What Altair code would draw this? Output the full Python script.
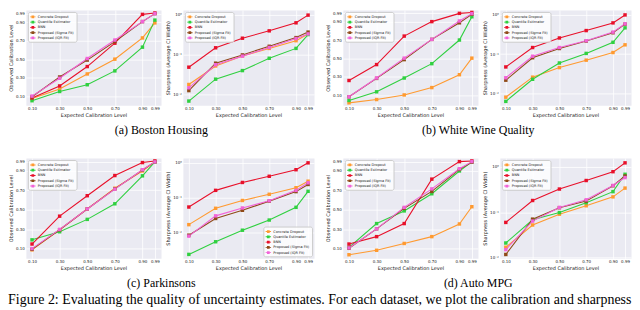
import altair as alt
import pandas as pd

X_LEVELS = [0.10, 0.30, 0.50, 0.70, 0.90, 0.99]
METHODS = ["Concrete Dropout", "Quantile Estimator", "BNN",
           "Proposed (Sigma Fit)", "Proposed (IQR Fit)"]
COLORS = ["#ff9a30", "#30d040", "#e8102a", "#8f4a18", "#f264d8"]
LOG_TICKS = [0.001, 0.01, 0.1, 1.0]

# (a) Boston Housing
boston_cal = {
    "Concrete Dropout": [0.073, 0.177, 0.34, 0.50, 0.73, 0.893],
    "Quantile Estimator": [0.05, 0.15, 0.223, 0.373, 0.63, 0.923],
    "BNN": [0.08, 0.21, 0.42, 0.673, 0.985, 1.0],
    "Proposed (Sigma Fit)": [0.093, 0.307, 0.49, 0.69, 0.907, 0.993],
    "Proposed (IQR Fit)": [0.10, 0.293, 0.507, 0.707, 0.907, 0.993],
}
boston_sharp = {
    "Concrete Dropout": [0.0179, 0.0519, 0.0916, 0.1425, 0.222, 0.328],
    "Quantile Estimator": [0.0069, 0.0243, 0.0398, 0.0809, 0.1425, 0.316],
    "BNN": [0.0484, 0.1476, 0.256, 0.391, 0.62, 0.966],
    "Proposed (Sigma Fit)": [0.0126, 0.061, 0.098, 0.161, 0.265, 0.364],
    "Proposed (IQR Fit)": [0.0148, 0.0557, 0.0914, 0.150, 0.251, 0.328],
}
# (b) White Wine Quality
wine_cal = {
    "Concrete Dropout": [0.017, 0.053, 0.103, 0.183, 0.323, 0.503],
    "Quantile Estimator": [0.043, 0.137, 0.287, 0.443, 0.70, 0.953],
    "BNN": [0.26, 0.433, 0.743, 0.90, 0.99, 1.0],
    "Proposed (Sigma Fit)": [0.083, 0.283, 0.487, 0.707, 0.887, 0.98],
    "Proposed (IQR Fit)": [0.083, 0.287, 0.503, 0.707, 0.907, 0.987],
}
wine_sharp = {
    "Concrete Dropout": [0.00805, 0.0259, 0.0453, 0.0698, 0.109, 0.171],
    "Quantile Estimator": [0.0063, 0.0229, 0.0593, 0.1037, 0.198, 0.461],
    "BNN": [0.047, 0.146, 0.255, 0.393, 0.615, 0.98],
    "Proposed (Sigma Fit)": [0.0217, 0.0806, 0.138, 0.213, 0.346, 0.573],
    "Proposed (IQR Fit)": [0.025, 0.088, 0.146, 0.217, 0.359, 0.583],
}
# (c) Parkinsons
park_cal = {
    "Concrete Dropout": [0.087, 0.293, 0.507, 0.72, 0.897, 0.99],
    "Quantile Estimator": [0.19, 0.273, 0.40, 0.56, 0.847, 0.99],
    "BNN": [0.147, 0.433, 0.643, 0.85, 0.983, 1.0],
    "Proposed (Sigma Fit)": [0.093, 0.293, 0.507, 0.713, 0.907, 0.99],
    "Proposed (IQR Fit)": [0.10, 0.297, 0.507, 0.71, 0.91, 0.99],
}
park_sharp = {
    "Concrete Dropout": [0.0165, 0.0489, 0.0822, 0.124, 0.192, 0.296],
    "Quantile Estimator": [0.00229, 0.0053, 0.0114, 0.0224, 0.0521, 0.151],
    "BNN": [0.0532, 0.161, 0.272, 0.41, 0.634, 1.0],
    "Proposed (Sigma Fit)": [0.0082, 0.0249, 0.0429, 0.0787, 0.148, 0.238],
    "Proposed (IQR Fit)": [0.0077, 0.0296, 0.0499, 0.0805, 0.161, 0.266],
}
# (d) Auto MPG
mpg_cal = {
    "Concrete Dropout": [0.037, 0.083, 0.153, 0.223, 0.353, 0.53],
    "Quantile Estimator": [0.113, 0.357, 0.487, 0.663, 0.897, 0.99],
    "BNN": [0.147, 0.223, 0.357, 0.813, 0.993, 1.0],
    "Proposed (Sigma Fit)": [0.103, 0.303, 0.513, 0.687, 0.913, 0.987],
    "Proposed (IQR Fit)": [0.107, 0.303, 0.523, 0.713, 0.92, 0.993],
}
mpg_sharp = {
    "Concrete Dropout": [0.017, 0.0525, 0.0906, 0.139, 0.218, 0.34],
    "Quantile Estimator": [0.0211, 0.0684, 0.0984, 0.162, 0.284, 0.684],
    "BNN": [0.0598, 0.1815, 0.324, 0.499, 0.78, 1.22],
    "Proposed (Sigma Fit)": [0.0118, 0.0706, 0.126, 0.176, 0.383, 0.629],
    "Proposed (IQR Fit)": [0.0151, 0.064, 0.128, 0.1877, 0.389, 0.579],
}

# axis ranges
X_DOMAIN = [0.0555, 1.0345]
boston_cal_dom = [0.0, 1.033]
boston_sharp_dom = [0.0054, 1.3]
wine_cal_dom = [-0.01, 1.027]
wine_sharp_dom = [0.005, 1.31]
park_cal_dom = [0.0, 1.03]
park_sharp_dom = [0.00176, 1.38]
mpg_cal_dom = [0.0, 1.03]
mpg_sharp_dom = [0.0097, 1.56]

CAPTIONS = ["(a) Boston Housing", "(b) White Wine Quality",
            "(c) Parkinsons", "(d) Auto MPG"]
FIG_CAPTION = ("Figure 2: Evaluating the quality of uncertainty estimates. "
               "For each dataset, we plot the calibration and sharpness")

LEGEND_SYMBOL = ("M-1,-0.16L1,-0.16L1,0.16L-1,0.16Z "
                 "M-0.5,-0.5L0.5,-0.5L0.5,0.5L-0.5,0.5Z")

W_CAL, W_SHARP = 136, 132
H1, H2 = 96, 101


def to_frame(values):
    rows = []
    for m in METHODS:
        for x, y in zip(X_LEVELS, values[m]):
            rows.append({"level": x, "value": y, "method": m})
    return pd.DataFrame(rows)


def panel(values, kind, dom, width, height, legend_orient="top-left"):
    df = to_frame(values)
    if kind == "cal":
        y = alt.Y("value:Q",
                  scale=alt.Scale(domain=dom, nice=False, zero=False),
                  axis=alt.Axis(values=X_LEVELS, format=".2f",
                                title="Observed Calibration Level"))
    else:
        y = alt.Y("value:Q",
                  scale=alt.Scale(type="log", domain=dom, nice=False),
                  axis=alt.Axis(values=LOG_TICKS,
                                labelExpr="datum.value >= 0.5 ? '10\u2070' : datum.value >= 0.05 ? '10\u207b\u00b9' : datum.value >= 0.005 ? '10\u207b\u00b2' : '10\u207b\u00b3'",
                                title="Sharpness (Average CI Width)"))
    x = alt.X("level:Q",
              scale=alt.Scale(domain=X_DOMAIN, nice=False, zero=False),
              axis=alt.Axis(values=X_LEVELS, format=".2f",
                            title="Expected Calibration Level"))
    color = alt.Color("method:N",
                      scale=alt.Scale(domain=METHODS, range=COLORS),
                      legend=alt.Legend(orient=legend_orient, title=None,
                                        symbolType=LEGEND_SYMBOL))
    base = alt.Chart(df).encode(x=x, y=y, color=color)
    lines = base.mark_line(strokeWidth=1.1)
    pts = base.mark_point(shape="square", filled=True, size=12, opacity=1)
    return alt.layer(lines, pts).properties(width=width, height=height)


def pair(cal, cal_dom, sharp, sharp_dom, caption, height, sharp_legend="top-left"):
    a = panel(cal, "cal", cal_dom, W_CAL, height)
    b = panel(sharp, "sharp", sharp_dom, W_SHARP, height, sharp_legend)
    return alt.hconcat(a, b, spacing=3).resolve_scale(color="independent").properties(
        title=alt.TitleParams(caption, orient="bottom", anchor="middle",
                              font="Liberation Serif", fontSize=12,
                              fontWeight="normal", color="black", offset=7))


row1 = alt.hconcat(
    pair(boston_cal, boston_cal_dom, boston_sharp, boston_sharp_dom, CAPTIONS[0], H1),
    pair(wine_cal, wine_cal_dom, wine_sharp, wine_sharp_dom, CAPTIONS[1], H1),
    spacing=10).resolve_scale(color="independent")
row2 = alt.hconcat(
    pair(park_cal, park_cal_dom, park_sharp, park_sharp_dom, CAPTIONS[2], H2, "bottom-right"),
    pair(mpg_cal, mpg_cal_dom, mpg_sharp, mpg_sharp_dom, CAPTIONS[3], H2),
    spacing=10).resolve_scale(color="independent")

chart = alt.vconcat(row1, row2, spacing=21).resolve_scale(color="independent").properties(
    padding=0,
    title=alt.TitleParams(FIG_CAPTION, orient="bottom", anchor="start",
                          font="Liberation Serif", fontSize=14,
                          fontWeight="normal", color="black", offset=4,
                          limit=628)
).configure(font="DejaVu Sans").configure_view(
    fill="#EAEAF2", stroke="transparent"
).configure_axis(
    grid=True, gridColor="white", gridWidth=0.8, domain=False, ticks=False,
    labelFontSize=4, titleFontSize=5, titleFontWeight="normal",
    labelColor="#222222", titleColor="#222222", labelPadding=1.5,
    titlePadding=2, labelOverlap=False, labelFlush=False,
    labelFont="DejaVu Sans", titleFont="DejaVu Sans"
).configure_legend(
    labelFontSize=3.5, labelFont="DejaVu Sans", labelColor="#222222",
    symbolSize=30, rowPadding=0.3, labelOffset=2, padding=2, offset=2,
    fillColor="rgba(255,255,255,0.8)", strokeColor="#cccccc",
    cornerRadius=2, symbolStrokeWidth=0
)

chart.save("out.html", embed_options={"renderer": "svg", "actions": False})
